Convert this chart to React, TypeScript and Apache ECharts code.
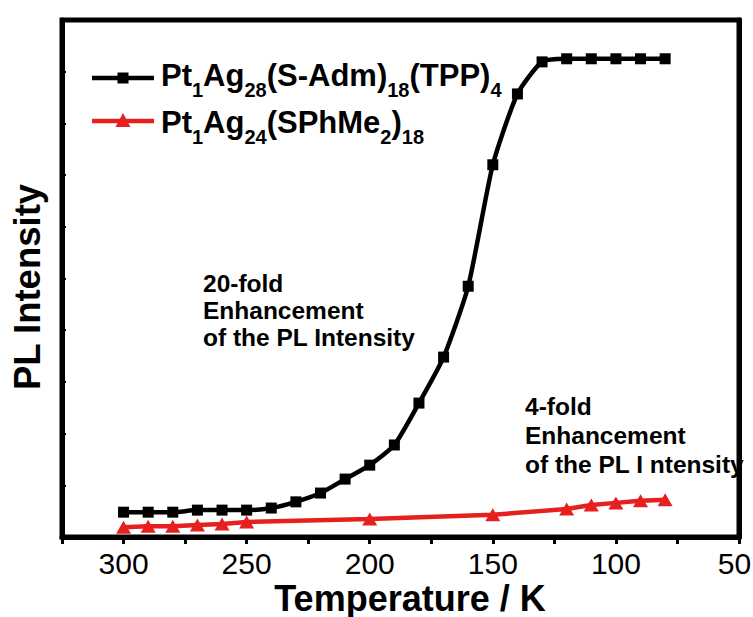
import React, { useEffect, useRef } from "react";
import * as echarts from "echarts";

// Temperature (K) and PL intensity (a.u.) for the two clusters
const tempsAg28 = [300, 290, 280, 270, 260, 250, 240, 230, 220, 210, 200, 190, 180, 170, 160, 150, 140, 130, 120, 110, 100, 90, 80];
const intensityAg28 = [4.8, 4.8, 4.8, 5.2, 5.2, 5.2, 5.6, 6.8, 8.5, 11.2, 13.9, 17.8, 25.9, 34.8, 48.5, 72.0, 85.7, 91.9, 92.5, 92.5, 92.5, 92.5, 92.5];

const tempsAg24 = [300, 290, 280, 270, 260, 250, 200, 150, 120, 110, 100, 90, 80];
const intensityAg24 = [1.9, 2.1, 2.1, 2.3, 2.5, 2.9, 3.5, 4.3, 5.4, 6.2, 6.6, 7.0, 7.2];

const xLabelTicks = [300, 250, 200, 150, 100, 50];

const FONT = "'Liberation Sans', Arial, Helvetica, sans-serif";
const BLACK = "#000000";
const RED = "#e5201e";

const pair = (xs: number[], ys: number[]) => xs.map((x, i) => [x, ys[i]]);

export default function App() {
  const ref = useRef<HTMLDivElement>(null);

  useEffect(() => {
    if (!ref.current) return;
    const chart = echarts.init(ref.current, null, { renderer: "svg" });

    const main = { fontSize: 31, fontWeight: "bold", fontFamily: FONT, color: BLACK, lineHeight: 31, verticalAlign: "top" };
    const sub = { fontSize: 20, fontWeight: "bold", fontFamily: FONT, color: BLACK, lineHeight: 20, verticalAlign: "top", padding: [20, 0, 0, 0] };

    const note = {
      fontSize: 24.5,
      fontWeight: "bold",
      fontFamily: FONT,
      fill: BLACK,
      verticalAlign: "top",
      align: "left",
    };

    const lastTick = Math.min(...xLabelTicks);

    chart.setOption({
      animation: false,
      backgroundColor: "#ffffff",
      grid: {
        left: 62,
        right: 14,
        top: 20,
        bottom: 80,
        outerBoundsMode: "none",
        containLabel: false,
        show: true,
        borderColor: BLACK,
        borderWidth: 5,
        backgroundColor: "transparent",
      },
      xAxis: {
        type: "value",
        min: 50,
        max: 325,
        interval: 25,
        inverse: true,
        axisLine: { lineStyle: { color: BLACK, width: 5 } },
        axisTick: { length: 7, lineStyle: { color: BLACK, width: 3 } },
        axisLabel: {
          // the label at the right edge is nudged inward so it stays on the page
          formatter: (v: number) =>
            !xLabelTicks.includes(v) ? "" : v === lastTick ? `{edge|${v}}` : String(v),
          fontSize: 30,
          lineHeight: 30,
          color: BLACK,
          fontFamily: FONT,
          margin: 11,
          rich: {
            edge: { fontSize: 30, lineHeight: 30, fontFamily: FONT, color: BLACK, padding: [0, 9, 0, 0] },
          },
        },
        splitLine: { show: false },
      },
      yAxis: [
        {
          type: "value",
          min: 0,
          max: 100,
          interval: 10,
          axisLine: { show: true, lineStyle: { color: BLACK, width: 5 } },
          axisTick: { show: true, inside: true, length: 4, lineStyle: { color: BLACK, width: 2 } },
          axisLabel: { show: false },
          splitLine: { show: false },
        },
        {
          type: "value",
          position: "right",
          min: 0,
          max: 100,
          interval: 10,
          axisLine: { show: true, lineStyle: { color: BLACK, width: 5 } },
          axisTick: { show: true, length: 3, lineStyle: { color: BLACK, width: 2 } },
          axisLabel: { show: false },
          splitLine: { show: false },
        },
      ],
      series: [
        {
          name: "Pt1Ag28(S-Adm)18(TPP)4",
          type: "line",
          data: pair(tempsAg28, intensityAg28),
          smooth: 0.2,
          symbol: "rect",
          symbolSize: 11,
          lineStyle: { color: BLACK, width: 4.5 },
          itemStyle: { color: BLACK },
          z: 3,
        },
        {
          name: "Pt1Ag24(SPhMe2)18",
          type: "line",
          data: pair(tempsAg24, intensityAg24),
          symbol: "triangle",
          symbolSize: [15, 13],
          lineStyle: { color: RED, width: 4.5 },
          itemStyle: { color: RED },
          z: 4,
        },
      ],
      graphic: [
        // axis titles
        {
          type: "text",
          x: 410,
          y: 598,
          style: {
            text: "Temperature / K",
            fontSize: 36,
            lineHeight: 30,
            fontWeight: "bold",
            fontFamily: FONT,
            fill: BLACK,
            align: "center",
            verticalAlign: "middle",
          },
        },
        {
          type: "text",
          x: 27.5,
          y: 287,
          rotation: Math.PI / 2,
          style: {
            text: "PL Intensity",
            fontSize: 36.5,
            fontWeight: "bold",
            fontFamily: FONT,
            fill: BLACK,
            align: "center",
            verticalAlign: "middle",
          },
        },
        // legend
        { type: "line", shape: { x1: 92, y1: 78, x2: 154, y2: 78 }, style: { stroke: BLACK, lineWidth: 4.5 } },
        { type: "rect", shape: { x: 117.5, y: 72.5, width: 11, height: 11 }, style: { fill: BLACK } },
        {
          type: "text",
          x: 161,
          y: 60,
          style: {
            text: "{m|Pt}{s|1}{m|Ag}{s|28}{m|(S-Adm)}{s|18}{m|(TPP)}{s|4}",
            verticalAlign: "top",
            align: "left",
            rich: { m: main, s: sub },
          },
        },
        { type: "line", shape: { x1: 92, y1: 121, x2: 154, y2: 121 }, style: { stroke: RED, lineWidth: 4.5 } },
        { type: "polygon", shape: { points: [[123, 113], [115.5, 127], [130.5, 127]] }, style: { fill: RED } },
        {
          type: "text",
          x: 161,
          y: 107,
          style: {
            text: "{m|Pt}{s|1}{m|Ag}{s|24}{m|(SPhMe}{s|2}{m|)}{s|18}",
            verticalAlign: "top",
            align: "left",
            rich: { m: main, s: sub },
          },
        },
        // annotations
        {
          type: "text",
          x: 203,
          y: 270,
          style: { ...note, text: "20-fold\nEnhancement\nof the PL Intensity", lineHeight: 27 },
        },
        {
          type: "text",
          x: 525,
          y: 392,
          style: { ...note, text: "4-fold\nEnhancement\nof the PL I ntensity", lineHeight: 29 },
        },
      ],
    });

    return () => chart.dispose();
  }, []);

  return (
    <div
      ref={ref}
      style={{ position: "fixed", left: 0, top: 0, width: 753, height: 617, background: "#fff" }}
    />
  );
}
